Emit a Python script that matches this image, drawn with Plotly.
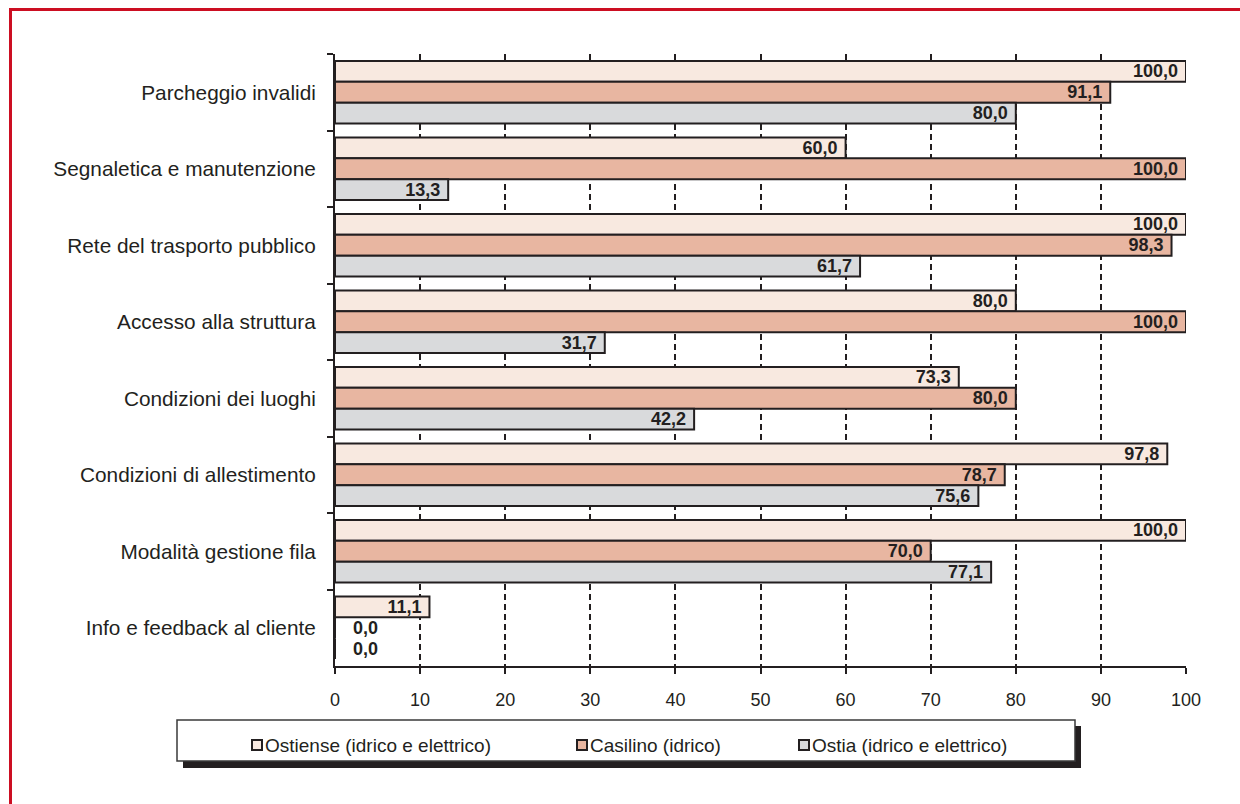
import plotly.graph_objects as go

# Categories, top to bottom
categories = [
    "Parcheggio invalidi",
    "Segnaletica e manutenzione",
    "Rete del trasporto pubblico",
    "Accesso alla struttura",
    "Condizioni dei luoghi",
    "Condizioni di allestimento",
    "Modalità gestione fila",
    "Info e feedback al cliente",
]

series_names = [
    "Ostiense (idrico e elettrico)",
    "Casilino (idrico)",
    "Ostia (idrico e elettrico)",
]

ostiense = [100.0, 60.0, 100.0, 80.0, 73.3, 97.8, 100.0, 11.1]
casilino = [91.1, 100.0, 98.3, 100.0, 80.0, 78.7, 70.0, 0.0]
ostia = [80.0, 13.3, 61.7, 31.7, 42.2, 75.6, 77.1, 0.0]

x_ticks = [0, 10, 20, 30, 40, 50, 60, 70, 80, 90, 100]

colors = ["#f8e9e0", "#e8b6a1", "#d9dadc"]
INK = "#231f20"
FONT = "Liberation Sans, Arial, sans-serif"
NBSP = "\u00a0"

W, H = 1240, 804
L, R, T, B = 335, 1186, 54, 666


def px(x):
    return (x - L) / (R - L)


def py(y):
    return (B - y) / (B - T)


fig = go.Figure()
for name, vals, col in zip(series_names, [ostiense, casilino, ostia], colors):
    fig.add_trace(go.Bar(
        y=categories,
        x=vals,
        name=name,
        orientation="h",
        marker=dict(color=col, line=dict(color=INK, width=2)),
        # value labels: right-aligned inside the bar end, zero values just past the axis
        texttemplate=[NBSP * 3 + "%{x:.1f}" if v == 0 else "%{x:.1f}" + NBSP for v in vals],
        textposition=["outside" if v == 0 else "inside" for v in vals],
        insidetextanchor="end",
        constraintext="none",
        textfont=dict(family=FONT, size=18, color=INK, weight="bold"),
        cliponaxis=False,
        showlegend=False,
    ))

shapes = []
# red frame (top and left edges)
shapes.append(dict(type="line", xref="paper", yref="paper",
                   x0=px(9), x1=px(W), y0=py(9.5), y1=py(9.5),
                   line=dict(color="#cc0e22", width=3)))
shapes.append(dict(type="line", xref="paper", yref="paper",
                   x0=px(10.5), x1=px(10.5), y0=py(8), y1=py(H),
                   line=dict(color="#cc0e22", width=3)))
# legend box with drop shadow
shapes.append(dict(type="rect", xref="paper", yref="paper",
                   x0=px(183), x1=px(1081), y0=py(726), y1=py(768),
                   fillcolor=INK, line=dict(width=0)))
shapes.append(dict(type="rect", xref="paper", yref="paper",
                   x0=px(177), x1=px(1075), y0=py(720), y1=py(761),
                   fillcolor="white", line=dict(color="#3a3a3a", width=1.5)))

annotations = []
legend_x = [252, 577, 799]
for lx, name, col in zip(legend_x, series_names, colors):
    shapes.append(dict(type="rect", xref="paper", yref="paper",
                       x0=px(lx), x1=px(lx + 10), y0=py(740), y1=py(750),
                       fillcolor=col, line=dict(color=INK, width=2)))
    annotations.append(dict(xref="paper", yref="paper", x=px(lx + 11), y=py(745),
                            text=name, showarrow=False, xanchor="left", yanchor="middle",
                            font=dict(family=FONT, size=19, color=INK)))

fig.update_layout(
    width=W, height=H,
    margin=dict(l=L, r=W - R, t=T, b=H - B),
    paper_bgcolor="white", plot_bgcolor="white",
    barmode="group", bargap=0.18, bargroupgap=0,
    separators=",.",
    font=dict(family=FONT, color=INK),
    shapes=shapes,
    annotations=annotations,
    showlegend=False,
)

fig.update_xaxes(
    range=[0, 100], tickvals=x_ticks,
    showgrid=True, gridcolor=INK, gridwidth=2, griddash="6px,4px",
    zeroline=False,
    showline=True, linecolor=INK, linewidth=2,
    ticks="outside", ticklen=6, tickwidth=2, tickcolor=INK,
    tickfont=dict(family=FONT, size=18, color=INK),
    ticklabelstandoff=10,
)
fig.update_yaxes(
    autorange="reversed",
    showgrid=False, zeroline=False,
    showline=True, linecolor=INK, linewidth=2,
    ticks="outside", ticklen=6, tickwidth=2, tickcolor=INK,
    tickson="boundaries",
    tickfont=dict(family=FONT, size=20.8, color=INK),
    ticklabelstandoff=13,
)

fig.write_html("out.html")
